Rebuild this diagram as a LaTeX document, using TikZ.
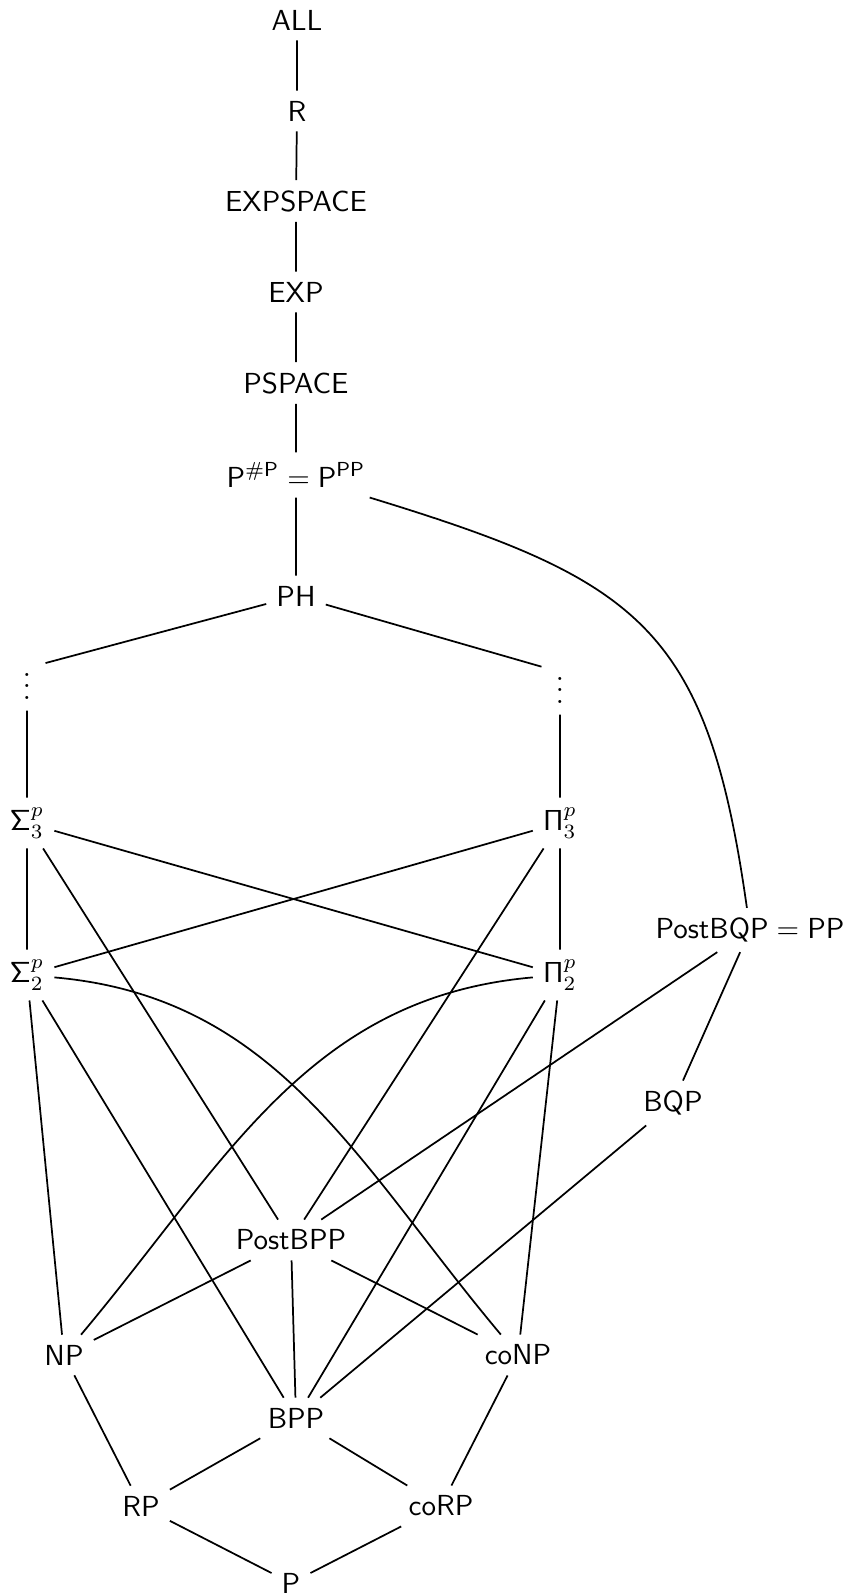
\documentclass[tikz,border=0pt]{standalone}
\begin{document}
\begin{tikzpicture}[x=0.345pt,y=-0.345pt,
  cls/.style={font=\sffamily},
  vdotsnode/.style={inner sep=3.33pt, text height=22pt, text depth=0.3pt, minimum width=12.4pt},
  link/.style={line width=0.6pt}]
\useasboundingbox (0,0) rectangle (856,1594);

% classes
\node[cls] (ALL)      at (297,20)   {ALL};
\node[cls] (R)        at (297,111)  {R};
\node[cls] (EXPSPACE) at (296,201)  {EXPSPACE};
\node[cls] (EXP)      at (296,292)  {EXP};
\node[cls] (PSPACE)   at (296,383)  {PSPACE};
\node[cls] (PPP)      at (296,475)  {$\mathsf{P}^{\mathsf{\#P}} = \mathsf{P}^{\mathsf{PP}}$};
\node[cls] (PH)       at (296,596)  {PH};
\node[vdotsnode] (dl) at (27,668)   {$\vdots$};
\node[vdotsnode] (dr) at (560,672)  {$\vdots$};
\node[cls] (S3)       at (27,823)   {$\mathsf{\Sigma}_3^p$};
\node[cls] (P3)       at (560,823)  {$\mathsf{\Pi}_3^p$};
\node[cls] (S2)       at (27,975)   {$\mathsf{\Sigma}_2^p$};
\node[cls] (P2)       at (560,975)  {$\mathsf{\Pi}_2^p$};
\node[cls] (PBQP)     at (750,930)  {$\mathsf{PostBQP} = \mathsf{PP}$};
\node[cls] (BQP)      at (673,1103) {BQP};
\node[cls] (PBPP)     at (291,1240) {PostBPP};
\node[cls] (NP)       at (64,1355)  {NP};
\node[cls] (coNP)     at (518,1355) {coNP};
\node[cls] (BPP)      at (296,1418) {BPP};
\node[cls] (RP)       at (141,1506) {RP};
\node[cls] (coRP)     at (441,1506) {coRP};
\node[cls] (P)        at (291,1583) {P};

% inclusions
\draw[link] (ALL) -- (R) -- (EXPSPACE) -- (EXP) -- (PSPACE) -- (PPP) -- (PH);
\draw[link] (PH) -- (dl) -- (S3) -- (S2);
\draw[link] (PH) -- (dr) -- (P3) -- (P2);
\draw[link] (S3) -- (P2);
\draw[link] (P3) -- (S2);
\draw[link] (S3) -- (PBPP);
\draw[link] (P3) -- (PBPP);
\draw[link] (S2) to[out=-5,in=130] (coNP);
\draw[link] (P2) to[out=185,in=50] (NP);
\draw[link] (S2) -- (NP);
\draw[link] (P2) -- (coNP);
\draw[link] (S2) -- (BPP);
\draw[link] (P2) -- (BPP);
\draw[link] (PPP) to[out=-17,in=98,looseness=1.3] (PBQP);
\draw[link] (PBQP) -- (PBPP);
\draw[link] (PBQP) -- (BQP);
\draw[link] (BQP) -- (BPP);
\draw[link] (PBPP) -- (NP);
\draw[link] (PBPP) -- (BPP);
\draw[link] (PBPP) -- (coNP);
\draw[link] (NP) -- (RP);
\draw[link] (BPP) -- (RP);
\draw[link] (BPP) -- (coRP);
\draw[link] (coNP) -- (coRP);
\draw[link] (RP) -- (P);
\draw[link] (coRP) -- (P);
\end{tikzpicture}
\end{document}
